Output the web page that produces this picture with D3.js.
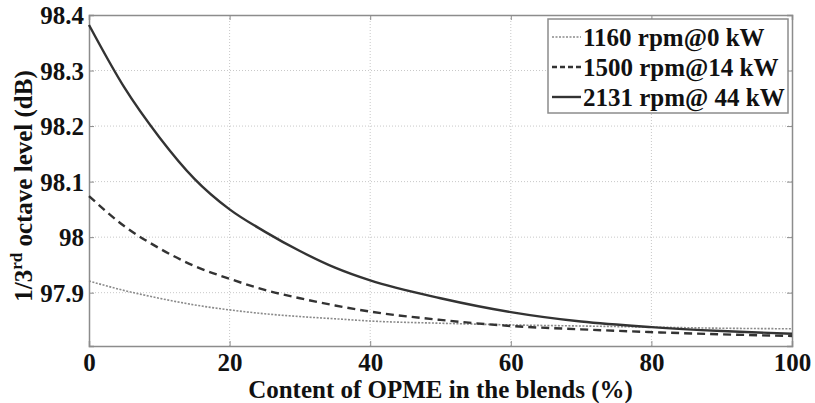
<!DOCTYPE html>
<html>
<head>
<meta charset="utf-8">
<script src="https://cdn.jsdelivr.net/npm/d3@7/dist/d3.min.js"></script>
<style>
  body { margin: 0; background: #fff; }
  svg { display: block; font-family: "Liberation Serif", "Times New Roman", serif; font-weight: bold; }
</style>
</head>
<body>
<svg id="chart" width="815" height="403"></svg>
<script>
// OPME content in the blend (%)
const opme = [0, 5, 10, 15, 20, 25, 30, 35, 40, 50, 60, 70, 80, 90, 100];

// 1/3 octave sound level (dB) for each engine operating point
const level1160 = [97.921, 97.904, 97.890, 97.878, 97.869, 97.862, 97.857, 97.853, 97.849, 97.845, 97.842, 97.840, 97.838, 97.836, 97.835];
const level1500 = [98.074, 98.020, 97.980, 97.948, 97.925, 97.905, 97.890, 97.877, 97.866, 97.851, 97.840, 97.834, 97.829, 97.825, 97.822];
const level2131 = [98.382, 98.270, 98.180, 98.105, 98.050, 98.010, 97.975, 97.945, 97.922, 97.890, 97.865, 97.848, 97.838, 97.831, 97.826];

const seriesNames = ["1160 rpm@0 kW", "1500 rpm@14 kW", "2131 rpm@ 44 kW"];
const xTicks = [0, 20, 40, 60, 80, 100];
const yTicks = [97.9, 98.0, 98.1, 98.2, 98.3, 98.4];

const series = [
  { name: seriesNames[0], values: level1160, stroke: "#8a8a8a", width: 1.6, dash: "2,1.5", key: "2,1.5" },
  { name: seriesNames[1], values: level1500, stroke: "#333", width: 2.4, dash: "8,5", key: "5,3" },
  { name: seriesNames[2], values: level2131, stroke: "#333", width: 2.4, dash: null, key: null }
];

const W = 815, H = 403;
const margin = { top: 15, right: 23, bottom: 57, left: 89 };
const svg = d3.select("#chart");
const g = svg.append("g").attr("transform", `translate(${margin.left},${margin.top})`);
const iw = W - margin.left - margin.right;
const ih = H - margin.top - margin.bottom;

const x = d3.scaleLinear().domain([0, 100]).range([0, iw]);
const y = d3.scaleLinear().domain([97.804, 98.4]).range([ih, 0]);

// dotted grid
g.append("g").selectAll("line").data(xTicks.slice(1, -1)).join("line")
  .attr("x1", d => x(d)).attr("x2", d => x(d)).attr("y1", 0).attr("y2", ih)
  .attr("stroke", "#c8c8c8").attr("stroke-width", 1).attr("stroke-dasharray", "1,2");
g.append("g").selectAll("line").data(yTicks.slice(0, -1)).join("line")
  .attr("x1", 0).attr("x2", iw).attr("y1", d => y(d)).attr("y2", d => y(d))
  .attr("stroke", "#c8c8c8").attr("stroke-width", 1).attr("stroke-dasharray", "1,2");

// axes (ticks point inward on all four sides)
const fmtY = v => String(+v.toFixed(1));
const xAxis = g.append("g").attr("transform", `translate(0,${ih})`)
  .call(d3.axisBottom(x).tickValues(xTicks).tickSize(-5).tickPadding(9).tickFormat(d3.format("d")));
const yAxis = g.append("g")
  .call(d3.axisLeft(y).tickValues(yTicks).tickSize(-5).tickPadding(5).tickFormat(fmtY));
const xTop = g.append("g").call(d3.axisTop(x).tickValues(xTicks).tickSize(-5).tickFormat(""));
const yRight = g.append("g").attr("transform", `translate(${iw},0)`)
  .call(d3.axisRight(y).tickValues(yTicks).tickSize(-5).tickFormat(""));

[xAxis, yAxis, xTop, yRight].forEach(a => {
  a.select(".domain").attr("stroke", "#8c8c8c").attr("stroke-width", 1.5);
  a.selectAll(".tick line").attr("stroke", "#8c8c8c");
  a.selectAll("text").attr("font-family", "Liberation Serif, serif").attr("font-weight", "bold")
    .attr("font-size", 25).attr("fill", "#111");
});
xAxis.selectAll("text").attr("dy", "0.62em");
yAxis.selectAll("text").attr("dy", "0.34em");

// curves
const line = d3.line().x((d, i) => x(opme[i])).y(d => y(d)).curve(d3.curveMonotoneX);
series.forEach(s => {
  g.append("path").datum(s.values).attr("d", line)
    .attr("fill", "none").attr("stroke", s.stroke).attr("stroke-width", s.width)
    .attr("stroke-dasharray", s.dash);
});

// legend
const lg = svg.append("g").attr("transform", "translate(548,19)");
lg.append("rect").attr("width", 240).attr("height", 94)
  .attr("fill", "#fff").attr("stroke", "#8c8c8c").attr("stroke-width", 1.5);
series.forEach((s, i) => {
  const cy = 18 + i * 30;
  lg.append("line").attr("x1", 4).attr("x2", 33).attr("y1", cy).attr("y2", cy)
    .attr("stroke", s.stroke).attr("stroke-width", s.width).attr("stroke-dasharray", s.key);
  lg.append("text").attr("x", 35).attr("y", cy).attr("dy", "0.34em")
    .attr("font-size", 25).attr("fill", "#111").text(s.name);
});

// axis titles
svg.append("text").attr("x", margin.left + iw / 2).attr("y", 398)
  .attr("text-anchor", "middle").attr("font-size", 25).attr("fill", "#111")
  .text("Content of OPME in the blends (%)");

const yl = svg.append("text").attr("transform", "translate(32,186) rotate(-90)")
  .attr("text-anchor", "middle").attr("font-size", 25).attr("fill", "#111");
yl.append("tspan").text("1/3");
yl.append("tspan").attr("font-size", 17).attr("dy", -10).text("rd");
yl.append("tspan").attr("dy", 10).text(" octave level (dB)");
</script>
</body>
</html>
